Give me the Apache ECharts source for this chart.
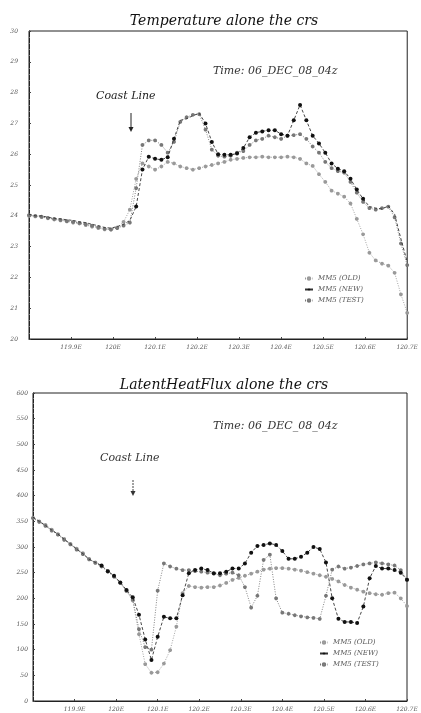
<!DOCTYPE html>
<html>
<head>
<meta charset="utf-8">
<script src="https://cdn.jsdelivr.net/npm/echarts@6/dist/echarts.min.js"></script>
<style>
  html, body { margin: 0; padding: 0; background: #fff; }
  #main { width: 421px; height: 713px; }
</style>
</head>
<body>
<div id="main"></div>
<script>
// points along the cross section (longitude)
const lon = [
    119.800, 119.815, 119.830, 119.845, 119.860, 119.875, 119.890, 119.905, 119.920, 119.935,
    119.950, 119.965, 119.980, 119.995, 120.010, 120.025, 120.040, 120.055, 120.070, 120.085,
    120.100, 120.115, 120.130, 120.145, 120.160, 120.175, 120.190, 120.205, 120.220, 120.235,
    120.250, 120.265, 120.280, 120.295, 120.310, 120.325, 120.340, 120.355, 120.370, 120.385,
    120.400, 120.415, 120.430, 120.445, 120.460, 120.475, 120.490, 120.505, 120.520, 120.535,
    120.550, 120.565, 120.580, 120.595, 120.610, 120.625, 120.640, 120.655, 120.670, 120.685,
    120.700
];
const seriesNames = ['MM5 (OLD)', 'MM5 (NEW)', 'MM5 (TEST)'];

// Temperature
const tempOld = [
    24.0, 23.98, 23.96, 23.92, 23.88, 23.85, 23.82, 23.78, 23.75, 23.7, 23.65, 23.6, 23.56, 23.55, 23.62, 23.8, 24.2,
    25.2, 25.7, 25.6, 25.5, 25.6, 25.75, 25.7, 25.6, 25.55, 25.5, 25.55, 25.6, 25.65, 25.7,
    25.75, 25.82, 25.85, 25.88, 25.9, 25.9, 25.92, 25.9, 25.9, 25.9, 25.92, 25.9, 25.85, 25.7, 25.62,
    25.35, 25.1, 24.82, 24.72, 24.62, 24.4, 23.9, 23.4, 22.8, 22.55, 22.45, 22.38, 22.15, 21.45, 20.85
];
const tempNew = [
    24.05, 24.0, 24.0, 23.95, 23.92, 23.9, 23.87, 23.85, 23.8, 23.78, 23.72, 23.68, 23.62, 23.6, 23.65, 23.72, 23.85,
    24.3, 25.5, 25.92, 25.85, 25.82, 25.9, 26.5, 27.1, 27.15, 27.25, 27.33, 27.0, 26.4, 26.0,
    25.98, 25.98, 26.02, 26.2, 26.55, 26.7, 26.74, 26.78, 26.78, 26.65, 26.6, 27.1, 27.6, 27.1, 26.6,
    26.35, 26.05, 25.7, 25.53, 25.45, 25.2, 24.85, 24.55, 24.3, 24.25, 24.22, 24.32, 24.05, 23.25, 22.5
];
const tempTest = [
    24.02, 24.0, 23.97, 23.93, 23.9, 23.87, 23.83, 23.8, 23.77, 23.73, 23.68, 23.63, 23.58, 23.56, 23.6, 23.68, 23.78,
    24.9, 26.3, 26.45, 26.45, 26.3, 26.05, 26.4, 27.05, 27.2, 27.28, 27.3, 26.8, 26.15, 25.95,
    25.92, 25.95, 26.05, 26.1, 26.3, 26.45, 26.5, 26.6, 26.55, 26.5, 26.6, 26.62, 26.65, 26.5, 26.25,
    26.05, 25.75, 25.55, 25.45, 25.4, 25.1, 24.75, 24.45, 24.25, 24.2, 24.25, 24.3, 23.95, 23.1, 22.4
];

// Latent heat flux
const lhfOld = [
    357, 350, 343, 334, 325, 316, 306, 297, 288, 277, 270, 263, 253, 243, 230, 214, 196,
    130, 72, 55, 56, 73, 99, 145, 210, 224, 222, 221, 222, 222, 225,
    230, 236, 240, 244, 248, 252, 256, 258, 259, 259, 258, 256, 254, 251, 248,
    245, 242, 238, 233, 226, 221, 217, 213, 210, 208, 207, 210, 211, 200, 185
];
const lhfNew = [
    358, 350, 342, 333, 325, 315, 306, 296, 287, 276, 270, 264, 253, 244, 231, 216, 202,
    168, 120, 80, 125, 164, 161, 161, 206, 249, 255, 258, 255, 249, 249,
    252, 258, 258, 268, 289, 302, 304, 307, 304, 292, 277, 277, 281, 289, 300,
    296, 270, 200, 160, 154, 154, 152, 184, 239, 263, 258, 258, 255, 250, 236
];
const lhfTest = [
    356, 349, 341, 332, 324, 314, 305, 295, 286, 276, 269, 262, 252, 242, 230, 215, 198,
    140, 105, 100, 215, 268, 262, 258, 255, 255, 253, 252, 250, 248, 245,
    248, 250, 245, 222, 182, 205, 275, 285, 200, 172, 170, 167, 165, 163, 162,
    160, 205, 256, 262, 258, 260, 263, 266, 268, 270, 268, 266, 264, 255, 236
];

const serif = 'DejaVu Serif';
const pairs = function (arr) {
    return lon.map(function (x, k) { return [x, arr[k]]; });
};
const lonLabel = function (v) {
    const r = Math.round(v * 10) / 10;
    return (r === 120 ? '120' : r.toFixed(1)) + 'E';
};

// where the big filled dots of the NEW run are drawn
const dotTop = function (val, p) {
    const i = p.dataIndex;
    return (i >= 17 && i <= 53 && !(i >= 24 && i <= 27)) ? 4 : 0;
};
const dotBottom = function (val, p) {
    return p.dataIndex >= 11 ? 4 : 0;
};

const makeSeries = function (idx, data, kind, sizeFn) {
    if (kind === 'new') {
        return {
            name: seriesNames[1], type: 'line', xAxisIndex: idx, yAxisIndex: idx,
            data: data, symbol: 'circle', symbolSize: sizeFn, showAllSymbol: true,
            itemStyle: {color: '#111'},
            lineStyle: {color: '#333', width: 0.9, type: [3, 2]},
            z: 4
        };
    }
    const old = kind === 'old';
    return {
        name: old ? seriesNames[0] : seriesNames[2],
        type: 'line', xAxisIndex: idx, yAxisIndex: idx,
        data: data, symbol: 'emptyCircle', symbolSize: 1.8, showAllSymbol: true,
        itemStyle: {color: old ? '#999' : '#777', borderWidth: 0.6},
        lineStyle: {color: old ? '#999' : '#777', width: 0.9, type: [1, 1.5]},
        z: 3
    };
};

const xAxisBase = function (gi) {
    return {
        type: 'value', gridIndex: gi, min: 119.8, max: 120.7, interval: 0.1,
        axisLine: {lineStyle: {color: '#222', width: 1}},
        axisTick: {show: true, inside: true, length: 2, lineStyle: {color: '#444'}},
        splitLine: {show: false},
        axisLabel: {
            showMinLabel: false, fontSize: 6, color: '#555', fontFamily: serif,
            fontStyle: 'italic', margin: 5, formatter: lonLabel
        }
    };
};

const legendBase = function (left, top) {
    return {
        data: seriesNames, orient: 'vertical', left: left, top: top, itemGap: 4,
        itemWidth: 8, itemHeight: 3,
        textStyle: {fontSize: 7, fontStyle: 'italic', color: '#555', fontFamily: serif}
    };
};

const chart = echarts.init(document.getElementById('main'));
chart.setOption({
    animation: false,
    backgroundColor: '#fff',
    title: [
        {
            text: 'Temperature alone the crs', left: 219, top: 9, textAlign: 'center',
            textStyle: {fontFamily: serif, fontStyle: 'italic', fontWeight: 'normal', fontSize: 14, color: '#111'}
        },
        {
            text: 'LatentHeatFlux alone the crs', left: 219, top: 373, textAlign: 'center',
            textStyle: {fontFamily: serif, fontStyle: 'italic', fontWeight: 'normal', fontSize: 14, color: '#111'}
        }
    ],
    legend: [legendBase(299, 270), legendBase(314, 634)],
    grid: [
        {left: 29, top: 31, width: 381, height: 308, show: true, borderColor: '#222', borderWidth: 1},
        {left: 33, top: 393, width: 374, height: 308, show: true, borderColor: '#222', borderWidth: 1}
    ],
    xAxis: [xAxisBase(0), xAxisBase(1)],
    yAxis: [
        {
            type: 'value', gridIndex: 0, min: 20, max: 30, interval: 1,
            axisLine: {show: true, lineStyle: {color: '#222'}},
            axisTick: {show: true, inside: true, length: 2, lineStyle: {color: '#444'}},
            minorTick: {show: true, splitNumber: 5, length: 1, lineStyle: {color: '#777'}},
            splitLine: {show: false},
            axisLabel: {fontSize: 6, color: '#555', fontFamily: serif, fontStyle: 'italic', margin: 11}
        },
        {
            type: 'value', gridIndex: 1, min: 0, max: 600, interval: 50,
            axisLine: {show: true, lineStyle: {color: '#222'}},
            axisTick: {show: true, inside: true, length: 2, lineStyle: {color: '#444'}},
            minorTick: {show: true, splitNumber: 5, length: 1, lineStyle: {color: '#777'}},
            splitLine: {show: false},
            axisLabel: {fontSize: 6, color: '#555', fontFamily: serif, fontStyle: 'italic', margin: 5}
        }
    ],
    series: [
        makeSeries(0, pairs(tempOld), 'old'),
        makeSeries(0, pairs(tempNew), 'new', dotTop),
        makeSeries(0, pairs(tempTest), 'test'),
        makeSeries(1, pairs(lhfOld), 'old'),
        makeSeries(1, pairs(lhfNew), 'new', dotBottom),
        makeSeries(1, pairs(lhfTest), 'test')
    ],
    graphic: [
        {
            type: 'text', left: 213, top: 66,
            style: {text: 'Time: 06_DEC_08_04z', font: 'italic 11px "DejaVu Serif"', fill: '#333'}
        },
        {
            type: 'text', left: 96, top: 91,
            style: {text: 'Coast Line', font: 'italic 11px "DejaVu Serif"', fill: '#222'}
        },
        {type: 'line', shape: {x1: 131, y1: 113, x2: 131, y2: 130}, style: {stroke: '#222', lineWidth: 1}},
        {type: 'polygon', shape: {points: [[128.5, 127], [133.5, 127], [131, 132]]}, style: {fill: '#222'}},
        {
            type: 'text', left: 213, top: 421,
            style: {text: 'Time: 06_DEC_08_04z', font: 'italic 11px "DejaVu Serif"', fill: '#333'}
        },
        {
            type: 'text', left: 100, top: 453,
            style: {text: 'Coast Line', font: 'italic 11px "DejaVu Serif"', fill: '#333'}
        },
        {type: 'line', shape: {x1: 133, y1: 480, x2: 133, y2: 493}, style: {stroke: '#444', lineWidth: 1, lineDash: [2, 1]}},
        {type: 'polygon', shape: {points: [[130.5, 491], [135.5, 491], [133, 496]]}, style: {fill: '#333'}}
    ]
});
</script>
</body>
</html>
